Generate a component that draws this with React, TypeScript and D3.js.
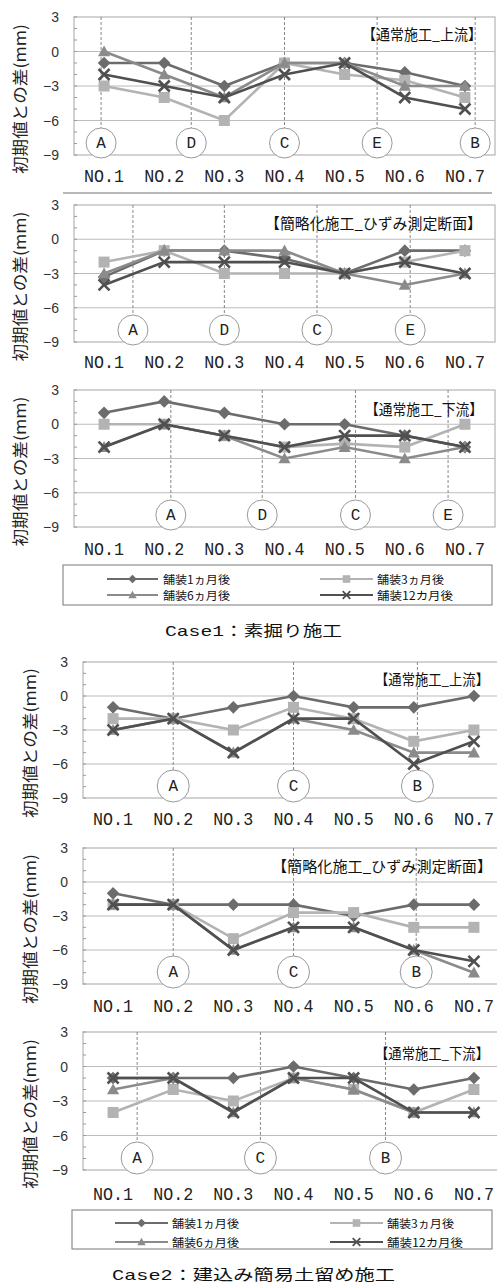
import React from "react";
import * as d3 from "d3";

const categories = ["NO.1", "NO.2", "NO.3", "NO.4", "NO.5", "NO.6", "NO.7"];
const yTickValues = [3, 0, -3, -6, -9];
const gridValues = [0, -3, -6];
const minorTickValues = d3.range(-9, 4);
const seriesLabels = ["舗装1ヵ月後", "舗装3ヵ月後", "舗装6ヵ月後", "舗装12カ月後"];

// Case1 : 通常施工_上流
const c1Up1m = [-1, -1, -3, -1, -1, -1.8, -3];
const c1Up3m = [-3, -4, -6, -1, -2, -2.5, -4];
const c1Up6m = [0, -2, -4, -1, -1, -3, -3];
const c1Up12m = [-2, -3, -4, -2, -1, -4, -5];
const c1UpMarkers = ["A", "D", "C", "E", "B"];
const c1UpMarkerPos = [-0.05, 1.45, 3, 4.54, 6.17];

// Case1 : 簡略化施工_ひずみ測定断面
const c1Mid1m = [-3.3, -1, -1, -1.7, -3, -1, -1];
const c1Mid3m = [-2, -1, -3, -3, -3, -2, -1];
const c1Mid6m = [-3, -1, -1, -1, -3, -4, -3];
const c1Mid12m = [-4, -2, -2, -2, -3, -2, -3];
const c1MidMarkers = ["A", "D", "C", "E"];
const c1MidMarkerPos = [0.48, 2.0, 3.54, 5.09];

// Case1 : 通常施工_下流
const c1Dn1m = [1, 2, 1, 0, 0, -1, -2];
const c1Dn3m = [0, 0, -1, -2, -1.7, -2, 0];
const c1Dn6m = [-2, 0, -1, -3, -2, -3, -2];
const c1Dn12m = [-2, 0, -1, -2, -1, -1, -2];
const c1DnMarkers = ["A", "D", "C", "E"];
const c1DnMarkerPos = [1.11, 2.63, 4.18, 5.72];

// Case2 : 通常施工_上流
const c2Up1m = [-1, -2, -1, 0, -1, -1, 0];
const c2Up3m = [-2, -2, -3, -1, -2, -4, -3];
const c2Up6m = [-3, -2, -5, -2, -3, -5, -5];
const c2Up12m = [-3, -2, -5, -2, -2, -6, -4];
const c2UpMarkers = ["A", "C", "B"];
const c2UpMarkerPos = [1, 3, 5.06];

// Case2 : 簡略化施工_ひずみ測定断面
const c2Mid1m = [-1, -2, -2, -2, -3, -2, -2];
const c2Mid3m = [-2, -2, -5, -2.7, -2.7, -4, -4];
const c2Mid6m = [-2, -2, -6, -4, -4, -6, -8];
const c2Mid12m = [-2, -2, -6, -4, -4, -6, -7];
const c2MidMarkers = ["A", "C", "B"];
const c2MidMarkerPos = [1, 3, 5.04];

// Case2 : 通常施工_下流
const c2Dn1m = [-1, -1, -1, 0, -1, -2, -1];
const c2Dn3m = [-4, -2, -3, -1, -2, -4, -2];
const c2Dn6m = [-2, -1, -4, -1, -2, -4, -4];
const c2Dn12m = [-1, -1, -4, -1, -1, -4, -4];
const c2DnMarkers = ["A", "C", "B"];
const c2DnMarkerPos = [0.4, 2.45, 4.53];

const seriesColors = ["#6c6c6c", "#b3b3b3", "#8b8b8b", "#505050"];
const seriesShapes = ["diamond", "square", "triangle", "cross"];

const CJK = "'Noto Sans CJK JP', 'Noto Sans', sans-serif";
const MONO = "'Liberation Mono', 'Courier New', monospace";

function Marker({ shape, x, y, color, s }: { shape: string; x: number; y: number; color: string; s: number }) {
  if (shape === "diamond") {
    const h = s * 1.15;
    return <path d={`M${x},${y - h}L${x + h},${y}L${x},${y + h}L${x - h},${y}Z`} fill={color} />;
  }
  if (shape === "square") {
    return <rect x={x - s} y={y - s} width={2 * s} height={2 * s} fill={color} />;
  }
  if (shape === "triangle") {
    const h = s * 1.1;
    return <path d={`M${x},${y - h}L${x + h},${y + h * 0.8}L${x - h},${y + h * 0.8}Z`} fill={color} />;
  }
  return (
    <path
      d={`M${x - s},${y - s}L${x + s},${y + s}M${x - s},${y + s}L${x + s},${y - s}`}
      stroke={color}
      strokeWidth={s > 4 ? 2.6 : 1.8}
      fill="none"
    />
  );
}

interface PanelCfg {
  series: number[][];
  markers: string[];
  markerPos: number[];
  title: string;
  titleLen: number;
  titleRight: number;
  titleY: number;
  titleSize: number;
  left: number;
  right: number;
  top: number;
  bottom: number;
  tickRight: number;
  yTitleX: number;
  labelY: number;
  circleR: number;
}

function Panel({ cfg }: { cfg: PanelCfg }) {
  const x = d3.scaleBand<string>().domain(categories).range([cfg.left, cfg.right]);
  const xc = (c: string) => (x(c) as number) + x.bandwidth() / 2;
  const xm = d3.scaleLinear().domain([0, 6]).range([xc(categories[0]), xc(categories[6])]);
  const y = d3.scaleLinear().domain([-9, 3]).range([cfg.bottom, cfg.top]);
  const line = d3
    .line<number>()
    .x((_, i) => xc(categories[i]))
    .y((d) => y(d));
  const cy = cfg.bottom - 12;
  const yMid = (cfg.top + cfg.bottom) / 2 + 13;
  return (
    <g>
      {gridValues.map((v) => (
        <line key={v} x1={cfg.left} x2={cfg.right} y1={y(v)} y2={y(v)} stroke="#bcbcbc" strokeWidth={1.2} />
      ))}
      <rect
        x={cfg.left}
        y={cfg.top}
        width={cfg.right - cfg.left}
        height={cfg.bottom - cfg.top}
        fill="none"
        stroke="#b5b5b5"
        strokeWidth={1.2}
      />
      {minorTickValues.map((v) => (
        <line key={v} x1={cfg.left} x2={cfg.left + 3} y1={y(v)} y2={y(v)} stroke="#999" strokeWidth={1} />
      ))}
      {yTickValues.map((v) => (
        <text
          key={v}
          x={cfg.tickRight}
          y={y(v)}
          textAnchor="end"
          dominantBaseline="central"
          fontFamily="'Liberation Sans', Arial, sans-serif"
          fontSize={14}
          fill="#333"
        >
          {v < 0 ? "\u2212" + Math.abs(v) : String(v)}
        </text>
      ))}
      {cfg.markers.map((m, i) => {
        const mx = xm(cfg.markerPos[i]);
        return (
          <g key={m + i}>
            <line
              x1={mx}
              x2={mx}
              y1={cfg.top}
              y2={cy - cfg.circleR}
              stroke="#7a7a7a"
              strokeWidth={0.9}
              strokeDasharray="3,2"
            />
            <circle cx={mx} cy={cy} r={cfg.circleR} fill="#fff" stroke="#9a9a9a" strokeWidth={1} />
            <text
              x={mx}
              y={cy + 1}
              textAnchor="middle"
              dominantBaseline="central"
              fontFamily={MONO}
              fontSize={16}
              fill="#222"
            >
              {m}
            </text>
          </g>
        );
      })}
      {cfg.series.map((s, si) => (
        <g key={si}>
          <path d={line(s) || ""} fill="none" stroke={seriesColors[si]} strokeWidth={2.6} />
          {s.map((v, i) => (
            <Marker key={i} shape={seriesShapes[si]} x={xc(categories[i])} y={y(v)} color={seriesColors[si]} s={5.5} />
          ))}
        </g>
      ))}
      <text
        x={cfg.titleRight}
        y={cfg.titleY}
        textAnchor="end"
        dominantBaseline="central"
        fontFamily={CJK}
        fontSize={cfg.titleSize}
        textLength={cfg.titleLen}
        lengthAdjust="spacingAndGlyphs"
        fill="#111"
      >
        {cfg.title}
      </text>
      {categories.map((c) => (
        <text
          key={c}
          x={xc(c)}
          y={cfg.labelY}
          textAnchor="middle"
          dominantBaseline="central"
          fontFamily={MONO}
          fontSize={18}
          textLength={40}
          lengthAdjust="spacingAndGlyphs"
          fill="#222"
        >
          {c}
        </text>
      ))}
      <text
        transform={`translate(${cfg.yTitleX},${yMid}) rotate(-90)`}
        textAnchor="middle"
        dominantBaseline="central"
        fontFamily={CJK}
        fontSize={16}
        textLength={150}
        lengthAdjust="spacingAndGlyphs"
        fill="#222"
      >
        初期値との差(mm)
      </text>
    </g>
  );
}

function Legend({
  box,
  colX,
  rowY,
}: {
  box: [number, number, number, number];
  colX: [number, number, number][];
  rowY: number[];
}) {
  const textLens = [67, 67, 67, 76];
  return (
    <g>
      <rect x={box[0]} y={box[1]} width={box[2] - box[0]} height={box[3] - box[1]} fill="#fff" stroke="#777" strokeWidth={1} />
      {seriesLabels.map((lab, i) => {
        const [x1, x2, tx] = colX[i % 2];
        const yy = rowY[Math.floor(i / 2)];
        return (
          <g key={lab}>
            <line x1={x1} x2={x2} y1={yy} y2={yy} stroke={seriesColors[i]} strokeWidth={2.2} />
            <Marker shape={seriesShapes[i]} x={(x1 + x2) / 2} y={yy} color={seriesColors[i]} s={3.8} />
            <text
              x={tx}
              y={yy}
              dominantBaseline="central"
              fontFamily={CJK}
              fontSize={11.5}
              textLength={textLens[i]}
              lengthAdjust="spacingAndGlyphs"
              fill="#111"
            >
              {lab}
            </text>
          </g>
        );
      })}
    </g>
  );
}

const case1Base = { left: 74, right: 495, tickRight: 59, yTitleX: 19, circleR: 15 };
const case2Base = { left: 83, right: 504, tickRight: 68, yTitleX: 29, circleR: 16 };

const panels: PanelCfg[] = [
  {
    ...case1Base,
    series: [c1Up1m, c1Up3m, c1Up6m, c1Up12m],
    markers: c1UpMarkers,
    markerPos: c1UpMarkerPos,
    title: "【通常施工_上流】",
    titleLen: 120,
    titleRight: 482,
    titleY: 33,
    titleSize: 15,
    top: 17,
    bottom: 155,
    labelY: 177,
  },
  {
    ...case1Base,
    series: [c1Mid1m, c1Mid3m, c1Mid6m, c1Mid12m],
    markers: c1MidMarkers,
    markerPos: c1MidMarkerPos,
    title: "【簡略化施工_ひずみ測定断面】",
    titleLen: 217,
    titleRight: 482,
    titleY: 222,
    titleSize: 15,
    top: 205,
    bottom: 342,
    labelY: 363,
  },
  {
    ...case1Base,
    series: [c1Dn1m, c1Dn3m, c1Dn6m, c1Dn12m],
    markers: c1DnMarkers,
    markerPos: c1DnMarkerPos,
    title: "【通常施工_下流】",
    titleLen: 118,
    titleRight: 483,
    titleY: 408,
    titleSize: 15,
    top: 390,
    bottom: 527,
    labelY: 550,
  },
  {
    ...case2Base,
    series: [c2Up1m, c2Up3m, c2Up6m, c2Up12m],
    markers: c2UpMarkers,
    markerPos: c2UpMarkerPos,
    title: "【通常施工_上流】",
    titleLen: 114,
    titleRight: 489,
    titleY: 678,
    titleSize: 14.5,
    top: 662,
    bottom: 798,
    labelY: 820,
  },
  {
    ...case2Base,
    series: [c2Mid1m, c2Mid3m, c2Mid6m, c2Mid12m],
    markers: c2MidMarkers,
    markerPos: c2MidMarkerPos,
    title: "【簡略化施工_ひずみ測定断面】",
    titleLen: 220,
    titleRight: 492,
    titleY: 865,
    titleSize: 15,
    top: 848,
    bottom: 984,
    labelY: 1007,
  },
  {
    ...case2Base,
    series: [c2Dn1m, c2Dn3m, c2Dn6m, c2Dn12m],
    markers: c2DnMarkers,
    markerPos: c2DnMarkerPos,
    title: "【通常施工_下流】",
    titleLen: 114,
    titleRight: 489,
    titleY: 1052,
    titleSize: 14.5,
    top: 1032,
    bottom: 1170,
    labelY: 1195,
  },
];

export default function App() {
  return (
    <svg
      width={497}
      height={1283}
      viewBox="0 0 497 1283"
      style={{ position: "absolute", left: 0, top: 0, display: "block", background: "#fff" }}
    >
      <rect x={0} y={0} width={497} height={1283} fill="#fff" />
      <line x1={63} x2={492} y1={193} y2={193} stroke="#a0a0a0" strokeWidth={1.5} />
      {panels.map((p, i) => (
        <Panel key={i} cfg={p} />
      ))}
      <Legend
        box={[63, 565, 492, 605]}
        colX={[
          [107, 158, 163],
          [320, 373, 377],
        ]}
        rowY={[579, 595]}
      />
      <Legend
        box={[72, 1210, 492, 1249]}
        colX={[
          [115, 168, 172],
          [330, 383, 387],
        ]}
        rowY={[1223, 1242]}
      />
      <text
        x={165}
        y={632}
        dominantBaseline="central"
        fontFamily={`${MONO}, ${CJK}`}
        fontSize={15}
        textLength={177}
        lengthAdjust="spacingAndGlyphs"
        fill="#111"
      >
        Case1：素掘り施工
      </text>
      <text
        x={112}
        y={1276}
        dominantBaseline="central"
        fontFamily={`${MONO}, ${CJK}`}
        fontSize={15}
        textLength={283}
        lengthAdjust="spacingAndGlyphs"
        fill="#111"
      >
        Case2：建込み簡易土留め施工
      </text>
    </svg>
  );
}
